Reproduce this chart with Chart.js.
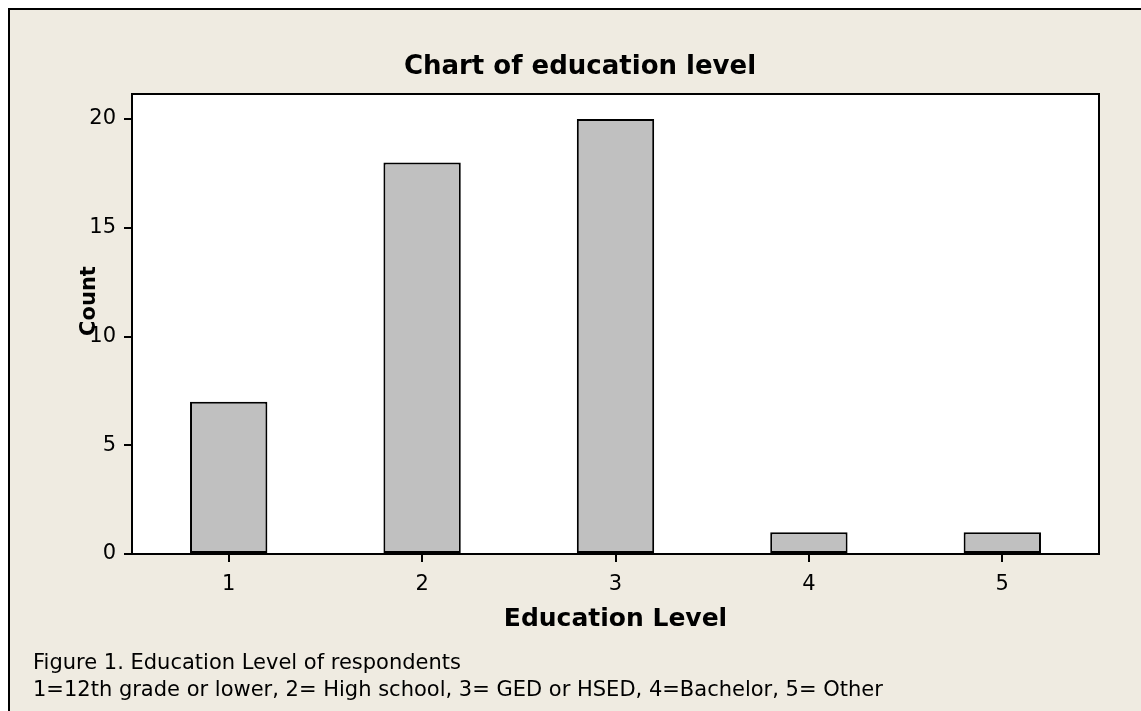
<!DOCTYPE html>
<html>
<head>
<meta charset="utf-8">
<script src="https://cdn.jsdelivr.net/npm/chart.js@4"></script>
<style>
  html, body { margin:0; padding:0; background:#fff; }
  #frame {
    position:absolute; left:8px; top:8px; width:1133px; height:703px;
    border-left:2px solid #000; border-top:2px solid #000;
    background:#EFEBE1;
  }
  #grafico { position:absolute; left:0; top:0; }
  .legenda {
    position:absolute; left:33px; font-family:"DejaVu Sans", sans-serif;
    font-size:21px; color:#000; white-space:nowrap;
  }
</style>
</head>
<body>
<div id="frame"></div>
<canvas id="grafico" width="1141" height="711"></canvas>
<div class="legenda" style="top:650px">Figure 1. Education Level of respondents</div>
<div class="legenda" style="top:677px">1=12th grade or lower, 2= High school, 3= GED or HSED, 4=Bachelor, 5= Other</div>

<script>
// --- Dados ---
const niveis = ["1", "2", "3", "4", "5"];
const contagens = [7, 18, 20, 1, 1];
const ticksY = [0, 5, 10, 15, 20];

const tituloGrafico = "Chart of education level";
const tituloX = "Education Level";
const tituloY = "Count";

const fonte = '"DejaVu Sans", sans-serif';

// --- Plugin: fundo branco, moldura e textos ---
const molduraPlugin = {
  id: "moldura",
  beforeDraw(chart) {
    const { ctx, chartArea: a } = chart;
    ctx.save();
    ctx.fillStyle = "#ffffff";
    ctx.fillRect(a.left, a.top, a.right - a.left, a.bottom - a.top);
    ctx.restore();
  },
  afterDraw(chart) {
    const { ctx, chartArea: a } = chart;
    ctx.save();
    ctx.strokeStyle = "#000";
    ctx.lineWidth = 2;
    ctx.strokeRect(a.left, a.top, a.right - a.left, a.bottom - a.top);

    ctx.fillStyle = "#000";
    ctx.textAlign = "center";
    ctx.textBaseline = "middle";
    ctx.font = "bold 26px " + fonte;
    ctx.fillText(tituloGrafico, 580, 67);

    ctx.translate(90, 301);
    ctx.rotate(-Math.PI / 2);
    ctx.font = "bold 21px " + fonte;
    ctx.fillText(tituloY, 0, 0);
    ctx.restore();
  }
};

window.onload = function(){
  const ctx = document.getElementById("grafico");
  new Chart(ctx, {
    type: "bar",
    data: {
      labels: niveis,
      datasets: [{
        data: contagens,
        backgroundColor: "#C0C0C0",
        borderColor: "#000",
        borderWidth: 2,
        borderSkipped: false,
        barPercentage: 0.4,
        categoryPercentage: 1.0
      }]
    },
    options: {
      responsive: false,
      animation: false,
      layout: { padding: { top: 94, right: 42, left: 0, bottom: 77 } },
      plugins: {
        legend: { display: false },
        title: { display: false },
        tooltip: { enabled: false }
      },
      scales: {
        x: {
          grid: { display: true, drawOnChartArea: false, drawTicks: true, tickLength: 8,
                  color: "#000", lineWidth: 2, offset: false },
          border: { display: false },
          ticks: { color: "#000", font: { family: fonte, size: 21 }, padding: 10 },
          title: { display: true, text: tituloX, color: "#000",
                   font: { family: fonte, size: 25, weight: "bold" }, padding: 0 },
          afterFit: s => { s.height = 80; }
        },
        y: {
          min: 0,
          max: 21.15,
          afterBuildTicks: s => { s.ticks = ticksY.map(v => ({ value: v })); },
          grid: { display: true, drawOnChartArea: false, drawTicks: true, tickLength: 8,
                  color: "#000", lineWidth: 2 },
          border: { display: false },
          ticks: { color: "#000", font: { family: fonte, size: 21 }, padding: 8 },
          afterFit: s => { s.width = 132; }
        }
      }
    },
    plugins: [molduraPlugin]
  });
};
</script>
</body>
</html>
